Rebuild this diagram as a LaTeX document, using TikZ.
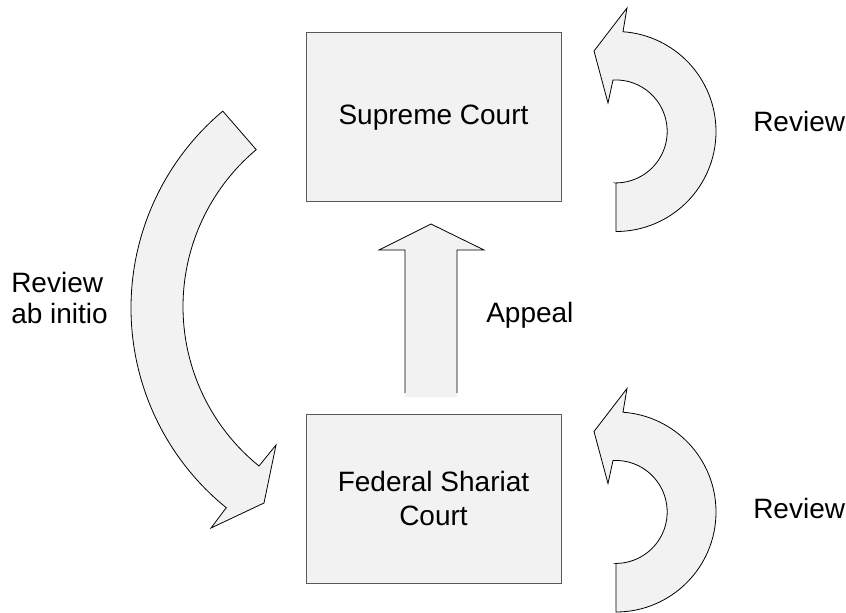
\documentclass[tikz,border=0pt]{standalone}
\usepackage{fontspec}
\setmainfont{Liberation Sans}
\definecolor{court-gray}{gray}{0.95}

\begin{document}
\begin{tikzpicture}[x=0.75pt, y=-0.75pt,
    court/.style={draw=black!65, line width=0.75pt, fill=court-gray,
        minimum width=191.25pt, minimum height=126.75pt, align=center,
        font=\fontsize{21}{25}\selectfont},
    txt/.style={inner sep=0pt, font=\fontsize{21}{23}\selectfont},
    blockarrow/.style={draw=black, line width=0.6pt, fill=court-gray}]
        \useasboundingbox (0,0) rectangle (846,613);
        % Supreme Court box
        \node [court] (supreme) at (433.5,117.5) {Supreme Court};
        % Federal Shariat Court box
        \node [court] (shariat) at (433.5,498.5) {Federal Shariat\\Court};
        % Appeal arrow fill
        \fill [court-gray] (405,397) -- (405,250) -- (379,250) -- (431,224)
            -- (484,250) -- (457,250) -- (457,397) -- cycle;
        % Appeal arrow outline
        \draw [line width=0.6pt] (405,393) -- (405,250) -- (379,250) -- (431,224)
            -- (484,250) -- (457,250) -- (457,393);
        % Appeal label
        \node [txt, anchor=base west] (appeal) at (486,322) {Appeal};
        % Review ab initio arrow
        \draw [blockarrow] (388,308) ++(230:257) arc [start angle=230, end angle=129, radius=257]
            -- (211,528) -- (264,503) -- (276,445) -- (259,466)
            arc [start angle=129, end angle=230, radius=205] -- cycle;
        % Review ab initio label
        \node [txt, anchor=west, align=left] (abinitio) at (11,298) {Review\\ab initio};
        % Top review arrow
        \draw [blockarrow] (616,183) -- (616,231.5) arc [start angle=90, end angle=-86, radius=100]
            -- (627,8) -- (594,51) -- (608,103) -- (613,80)
            arc [start angle=-93, end angle=90, radius=51.5] -- cycle;
        % Top review label
        \node [txt, anchor=base west] (review-top) at (753,132) {Review};
        % Bottom review arrow
        \draw [blockarrow] (616,563.5) -- (616,612) arc [start angle=90, end angle=-86, radius=100]
            -- (627,388.5) -- (594,431.5) -- (608,483.5) -- (613,460.5)
            arc [start angle=-93, end angle=90, radius=51.5] -- cycle;
        % Bottom review label
        \node [txt, anchor=base west] (review-bottom) at (753,518) {Review};
\end{tikzpicture}
\end{document}
